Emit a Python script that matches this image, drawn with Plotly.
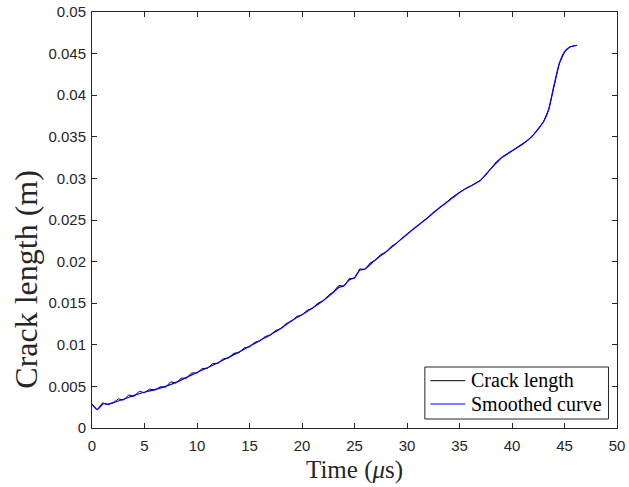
import plotly.graph_objects as go

# Raw crack-length record (time in microseconds, length in metres)
t_raw = [0.0, 0.5, 1.0, 1.5, 2.0, 2.5, 3.0, 3.5, 4.0, 4.5, 5.0, 5.5, 6.0, 6.5, 7.0, 7.5,
         8.0, 8.5, 9.0, 9.5, 10.0, 10.5, 11.0, 11.5, 12.0, 12.5, 13.0, 13.5, 14.0, 14.5,
         15.0, 15.5, 16.0, 16.5, 17.0, 17.5, 18.0, 18.5, 19.0, 19.5, 20.0, 20.5, 21.0,
         21.5, 22.0, 22.5, 23.0, 23.5, 24.0, 24.5, 25.0, 25.5, 26.0, 26.5, 27.0, 27.5,
         28.0, 28.5, 29.0, 29.5, 30.0, 30.5, 31.0, 31.5, 32.0, 32.5, 33.0, 33.5, 34.0,
         34.5, 35.0, 35.5, 36.0, 36.5, 37.0, 37.5, 38.0, 38.5, 39.0, 39.5, 40.0, 40.5,
         41.0, 41.5, 42.0, 42.5, 43.0, 43.5, 44.0, 44.5, 45.0, 45.5, 46.0, 46.2]
crack_raw = [0.00285, 0.00220, 0.00300, 0.00282, 0.00300, 0.00350, 0.00335, 0.00398,
             0.00380, 0.00440, 0.00425, 0.00468, 0.00455, 0.00495, 0.00490, 0.00555,
             0.00540, 0.00598, 0.00600, 0.00662, 0.00660, 0.00715, 0.00718, 0.00775,
             0.00778, 0.00832, 0.00842, 0.00898, 0.00905, 0.00962, 0.00975, 0.01030,
             0.01048, 0.01100, 0.01118, 0.01172, 0.01195, 0.01255, 0.01282, 0.01340,
             0.01358, 0.01415, 0.01438, 0.01500, 0.01525, 0.01592, 0.01640, 0.01712,
             0.01705, 0.01795, 0.01800, 0.01912, 0.01905, 0.01985, 0.02018, 0.02085,
             0.02112, 0.02182, 0.02218, 0.02280, 0.02325, 0.02385, 0.02428, 0.02485,
             0.02528, 0.02592, 0.02636, 0.02688, 0.02730, 0.02790, 0.02830, 0.02872,
             0.02903, 0.02944, 0.02975, 0.03040, 0.03118, 0.03198, 0.03250, 0.03292,
             0.03330, 0.03372, 0.03410, 0.03458, 0.03518, 0.03602, 0.03680, 0.03830,
             0.04120, 0.04380, 0.04520, 0.04580, 0.04595, 0.04600]

# Smoothed crack-length curve
t_smooth = [0.0, 0.5, 1.1, 1.5, 2.0, 3.0, 4.0, 5.0, 6.0, 7.0, 8.0, 9.0, 10.0, 11.0, 12.0,
            13.0, 14.0, 15.0, 16.0, 17.0, 18.0, 19.0, 20.0, 21.0, 22.0, 23.0, 23.5, 24.0,
            24.5, 25.0, 25.5, 26.0, 27.0, 28.0, 29.0, 30.0, 31.0, 32.0, 33.0, 34.0, 35.0,
            36.0, 37.0, 38.0, 39.0, 40.0, 41.0, 42.0, 43.0, 43.5, 44.0, 44.5, 45.0, 45.5,
            46.2]
crack_smooth = [0.00285, 0.00222, 0.00296, 0.00285, 0.00305, 0.00345, 0.00392, 0.00430,
                0.00462, 0.00500, 0.00548, 0.00608, 0.00668, 0.00725, 0.00785, 0.00848,
                0.00912, 0.00982, 0.01052, 0.01122, 0.01198, 0.01288, 0.01362, 0.01442,
                0.01530, 0.01630, 0.01690, 0.01710, 0.01780, 0.01805, 0.01895, 0.01912,
                0.02022, 0.02118, 0.02222, 0.02328, 0.02430, 0.02530, 0.02638, 0.02732,
                0.02832, 0.02905, 0.02978, 0.03118, 0.03248, 0.03330, 0.03410, 0.03518,
                0.03680, 0.03830, 0.04120, 0.04380, 0.04520, 0.04580, 0.04600]

x_ticks = [0, 5, 10, 15, 20, 25, 30, 35, 40, 45, 50]
y_ticks = [0, 0.005, 0.01, 0.015, 0.02, 0.025, 0.03, 0.035, 0.04, 0.045, 0.05]
y_tick_text = ["0", "0.005", "0.01", "0.015", "0.02", "0.025", "0.03", "0.035",
               "0.04", "0.045", "0.05"]
series_names = ["Crack length", "Smoothed curve"]
series_colors = ["black", "#0000ff"]

AXIS = "#262626"
SERIF = "Liberation Serif, Times New Roman, serif"
SANS = "Liberation Sans, Arial, Helvetica, sans-serif"

fig = go.Figure()
fig.add_trace(go.Scatter(x=t_raw, y=crack_raw, mode="lines", name=series_names[0],
                         line=dict(color=series_colors[0], width=1)))
fig.add_trace(go.Scatter(x=t_smooth, y=crack_smooth, mode="lines", name=series_names[1],
                         line=dict(color=series_colors[1], width=1.2, shape="spline",
                                   smoothing=0.6)))

axis_common = dict(showgrid=False, zeroline=False, showline=True, linecolor=AXIS,
                   linewidth=1, mirror="ticks", ticks="inside", ticklen=5,
                   tickcolor=AXIS, tickwidth=1,
                   tickfont=dict(family=SANS, size=15, color=AXIS))

# Boxed legend in the lower-right corner of the axes (paper coordinates)
box_x0, box_x1, box_y0, box_y1 = 0.634, 0.9838, 0.0216, 0.1466
sample_x0, sample_x1, label_x = 0.6445, 0.7110, 0.7177
row_y = [0.1137, 0.0577]

shapes = [dict(type="rect", xref="paper", yref="paper", x0=box_x0, x1=box_x1,
               y0=box_y0, y1=box_y1, line=dict(color=AXIS, width=1),
               fillcolor="white", layer="above")]
annotations = []
for name, color, ry in zip(series_names, series_colors, row_y):
    shapes.append(dict(type="line", xref="paper", yref="paper", x0=sample_x0,
                       x1=sample_x1, y0=ry, y1=ry, line=dict(color=color, width=1),
                       layer="above"))
    annotations.append(dict(text=name, xref="paper", yref="paper", x=label_x, y=ry,
                            xanchor="left", yanchor="middle", showarrow=False,
                            font=dict(family=SERIF, size=20, color="black")))

annotations += [
    dict(text="Time (<i>μ</i>s)", xref="paper", yref="paper",
         x=0.5, y=-0.101, xanchor="center", yanchor="middle", showarrow=False,
         font=dict(family=SERIF, size=25, color=AXIS)),
    dict(text="Crack length (m)", xref="paper", yref="paper",
         x=-0.1264, y=0.358, xanchor="center", yanchor="middle", showarrow=False,
         textangle=-90, font=dict(family=SERIF, size=32, color=AXIS)),
]

fig.update_layout(
    width=629, height=487,
    margin=dict(l=91.5, r=11.5, t=12, b=59, autoexpand=False),
    paper_bgcolor="white", plot_bgcolor="white",
    showlegend=False,
    xaxis=dict(range=[0, 50], tickvals=x_ticks, ticklabelstandoff=4, **axis_common),
    yaxis=dict(range=[0, 0.05], tickvals=y_ticks, ticktext=y_tick_text,
               ticklabelstandoff=2, **axis_common),
    shapes=shapes,
    annotations=annotations,
)

fig.write_html("out.html")
